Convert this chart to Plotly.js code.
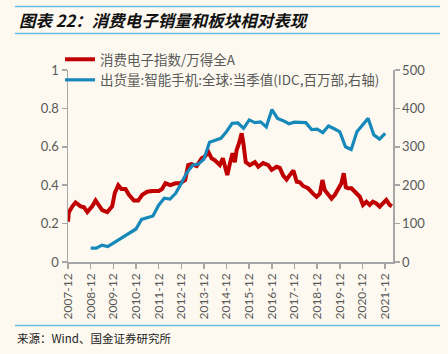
<!DOCTYPE html>
<html>
<head>
<meta charset="utf-8">
<script src="https://cdn.plot.ly/plotly-3.0.1.min.js"></script>
<style>
html,body{margin:0;padding:0;background:#FDF9F0;}
#chart{width:448px;height:354px;}
</style>
</head>
<body>
<div id="chart"></div>
<script>
// ---- data ----
const redName = '消费电子指数/万得全A';
const blueName = '出货量:智能手机:全球:当季值(IDC,百万部,右轴)';

const redDates = ['2007-12-01','2007-12-15','2008-02-10','2008-04-01','2008-06-21','2008-08-15','2008-10-07','2008-12-25','2009-02-18','2009-04-12','2009-06-04','2009-08-25','2009-11-12','2009-12-25','2010-02-18','2010-04-10','2010-06-15','2010-08-10','2010-10-28','2011-01-06','2011-03-12','2011-06-01','2011-08-20','2011-12-04','2012-01-25','2012-03-20','2012-06-07','2012-08-28','2012-11-12','2013-02-01','2013-03-22','2013-05-15','2013-08-06','2013-10-25','2013-12-18','2014-02-09','2014-04-03','2014-05-27','2014-08-15','2014-10-01','2014-11-06','2014-12-12','2015-01-25','2015-03-07','2015-04-12','2015-05-12','2015-06-21','2015-08-01','2015-08-28','2015-10-06','2015-12-12','2016-03-01','2016-04-25','2016-07-12','2016-10-03','2016-11-27','2017-02-15','2017-04-06','2017-06-01','2017-07-25','2017-09-20','2017-11-12','2018-01-05','2018-02-25','2018-04-17','2018-07-07','2018-09-25','2018-11-20','2019-01-13','2019-02-23','2019-04-01','2019-05-25','2019-07-20','2019-09-12','2019-11-01','2019-12-27','2020-02-02','2020-03-06','2020-04-11','2020-06-05','2020-07-30','2020-10-18','2020-12-08','2021-02-01','2021-03-27','2021-05-17','2021-07-11','2021-09-04','2021-10-25','2021-12-19','2022-02-12','2022-03-20'];
const redValues = [0.21,0.26,0.29,0.31,0.29,0.285,0.26,0.29,0.32,0.295,0.27,0.26,0.29,0.36,0.40,0.38,0.38,0.35,0.32,0.32,0.35,0.366,0.37,0.37,0.38,0.41,0.40,0.41,0.41,0.427,0.505,0.51,0.50,0.54,0.55,0.575,0.54,0.53,0.505,0.54,0.496,0.453,0.515,0.566,0.52,0.583,0.62,0.67,0.62,0.52,0.505,0.52,0.496,0.515,0.505,0.48,0.496,0.49,0.45,0.43,0.455,0.476,0.418,0.415,0.396,0.384,0.356,0.34,0.356,0.427,0.375,0.356,0.33,0.35,0.384,0.41,0.462,0.39,0.384,0.384,0.366,0.34,0.297,0.314,0.297,0.314,0.305,0.288,0.305,0.323,0.297,0.29];

const blueDates = ['2008-12-01','2009-03-01','2009-06-01','2009-09-01','2009-12-01','2010-03-01','2010-06-01','2010-09-01','2010-12-01','2011-03-01','2011-06-01','2011-09-01','2011-12-01','2012-03-01','2012-06-01','2012-09-01','2012-12-01','2013-03-01','2013-06-01','2013-09-01','2013-12-01','2014-03-01','2014-06-01','2014-09-01','2014-12-01','2015-03-01','2015-06-01','2015-09-01','2015-12-01','2016-03-01','2016-06-01','2016-09-01','2016-12-01','2017-03-01','2017-06-01','2017-09-01','2017-12-01','2018-03-01','2018-06-01','2018-09-01','2018-12-01','2019-03-01','2019-06-01','2019-09-01','2019-12-01','2020-03-01','2020-06-01','2020-09-01','2020-12-01','2021-03-01','2021-06-01','2021-09-01','2021-12-01'];
const blueValues = [36,36,44,40,49,58,67,77,86,111,116,120,148,166,164,179,205,233,252,255,268,312,317,322,340,361,362,348,370,363,365,352,397,374,368,360,364,364,363,345,346,337,354,347,339,300,293,339,356,374,331,320,335];

const tickVals = ['2007-12-01','2008-12-01','2009-12-01','2010-12-01','2011-12-01','2012-12-01','2013-12-01','2014-12-01','2015-12-01','2016-12-01','2017-12-01','2018-12-01','2019-12-01','2020-12-01','2021-12-01'];
const tickText = ['2007-12','2008-12','2009-12','2010-12','2011-12','2012-12','2013-12','2014-12','2015-12','2016-12','2017-12','2018-12','2019-12','2020-12','2021-12'];

const titleText = '图表 22：消费电子销量和板块相对表现';
const sourceText = '来源：Wind、国金证券研究所';

// ---- chart ----
const bg = '#FDF9F0';
const axisGray = '#A6A6A6';
const textGray = '#595959';
const font = 'Lato, "Noto Sans CJK SC", sans-serif';

const traces = [
  {x: redDates, y: redValues, name: redName, type: 'scatter', mode: 'lines',
   line: {color: '#C00000', width: 4}, yaxis: 'y'},
  {x: blueDates, y: blueValues, name: blueName, type: 'scatter', mode: 'lines',
   line: {color: '#1689BA', width: 3.2}, yaxis: 'y2'}
];

const W = 325, H = 192, L = 68, T = 70;
const px = v => (v - L) / W;
const py = v => (T + H - v) / H;

const layout = {
  width: 448, height: 354,
  margin: {l: 68, r: 55, t: 70, b: 92, pad: 0},
  paper_bgcolor: bg, plot_bgcolor: bg,
  font: {family: font, color: textGray, size: 13},
  showlegend: true,
  legend: {x: px(60), y: py(44), xanchor: 'left', yanchor: 'top',
    bgcolor: 'rgba(0,0,0,0)', font: {family: '"Noto Sans CJK SC", sans-serif', size: 13.5, color: textGray},
    tracegroupgap: 0, itemwidth: 30},
  xaxis: {type: 'date', range: ['2007-12-01', '2022-04-06'],
    tickmode: 'array', tickvals: tickVals, ticktext: tickText, tickangle: -90,
    tickfont: {family: font, size: 12, color: textGray},
    showline: true, linecolor: axisGray, linewidth: 1.5,
    ticks: 'outside', ticklen: 5, tickcolor: axisGray, tickwidth: 1.5,
    showgrid: false, zeroline: false},
  yaxis: {range: [0, 1], dtick: 0.2, tick0: 0,
    tickfont: {family: font, size: 13, color: textGray},
    showline: true, linecolor: axisGray, linewidth: 1.5,
    ticks: 'outside', ticklen: 5, tickcolor: axisGray, tickwidth: 1.5,
    showgrid: false, zeroline: false},
  yaxis2: {range: [0, 500], dtick: 100, tick0: 0, overlaying: 'y', side: 'right',
    tickfont: {family: font, size: 13, color: textGray},
    showline: true, linecolor: axisGray, linewidth: 1.5,
    ticks: 'outside', ticklen: 5, tickcolor: axisGray, tickwidth: 1.5,
    showgrid: false, zeroline: false},
  shapes: [
    {type: 'line', xref: 'paper', yref: 'paper', x0: px(15), x1: px(440), y0: py(6.5), y1: py(6.5), line: {color: '#6CBDE3', width: 1.5}},
    {type: 'line', xref: 'paper', yref: 'paper', x0: px(15), x1: px(440), y0: py(33.5), y1: py(33.5), line: {color: '#6CBDE3', width: 1.5}},
    {type: 'line', xref: 'paper', yref: 'paper', x0: px(15), x1: px(440), y0: py(325.5), y1: py(325.5), line: {color: '#6CBDE3', width: 1.5}}
  ],
  annotations: [
    {xref: 'paper', yref: 'paper', x: px(17), y: py(20), xanchor: 'left', yanchor: 'middle', showarrow: false,
     text: '<b><i>' + titleText + '</i></b>', font: {family: '"Noto Sans CJK SC", sans-serif', size: 16.5, color: '#111111'}},
    {xref: 'paper', yref: 'paper', x: px(15), y: py(338), xanchor: 'left', yanchor: 'middle', showarrow: false,
     text: sourceText, font: {family: '"Noto Sans CJK SC", sans-serif', size: 11.5, color: '#222222'}}
  ]
};

Plotly.newPlot('chart', traces, layout, {displayModeBar: false, staticPlot: true});
</script>
</body>
</html>
